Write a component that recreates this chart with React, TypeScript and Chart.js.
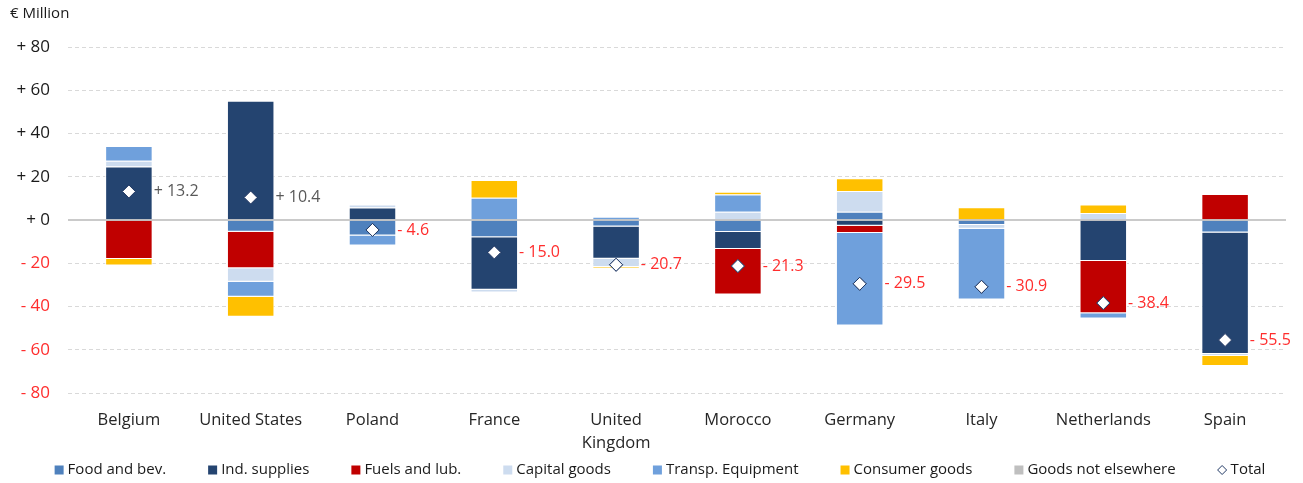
import React, { useEffect, useRef } from "react";
import { Chart, registerables } from "chart.js";

Chart.register(...registerables);

const categories: (string | string[])[] = [
  "Belgium",
  "United States",
  "Poland",
  "France",
  ["United", "Kingdom"],
  "Morocco",
  "Germany",
  "Italy",
  "Netherlands",
  "Spain",
];

const foodBev = [null, -5.4, -7.2, -8.0, -3.0, -5.6, 3.8, -2.3, null, -5.8];
const indSupplies = [24.7, 55.1, 5.8, -24.3, -14.9, -7.8, -2.7, null, -19.0, -56.2];
const fuelsLub = [-18.0, -16.9, null, null, null, -21.0, -3.3, null, -24.1, 12.0];
const capitalGoods = [2.7, -6.2, 1.4, -1.2, -3.8, 3.8, 9.6, -1.7, 3.2, -0.8];
const transpEquip = [6.8, -7.0, -4.6, 10.3, 1.5, 8.0, -42.8, -32.8, -2.5, null];
const consumerGoods = [-3.0, -9.2, null, 8.2, -0.5, 1.3, 5.9, 5.9, 4.0, -4.7];
const goodsNotElsewhere = [null, null, null, null, null, null, null, null, null, null];
const totals = [13.2, 10.4, -4.6, -15.0, -20.7, -21.3, -29.5, -30.9, -38.4, -55.5];

const yTicks = [80, 60, 40, 20, 0, -20, -40, -60, -80];

const FONT = "'Open Sans', 'Noto Sans', sans-serif";
const RED = "#ff2d2d";
const NAVY = "#203864";

const series = [
  { label: "Food and bev.", data: foodBev, color: "#4f81bd" },
  { label: "Ind. supplies", data: indSupplies, color: "#244470" },
  { label: "Fuels and lub.", data: fuelsLub, color: "#c00000" },
  { label: "Capital goods", data: capitalGoods, color: "#cddcef" },
  { label: "Transp. Equipment", data: transpEquip, color: "#6fa0dc" },
  { label: "Consumer goods", data: consumerGoods, color: "#ffc000" },
  { label: "Goods not elsewhere", data: goodsNotElsewhere, color: "#bfbfbf" },
];

const fmt = (v: number) => (v >= 0 ? "+ " : "- ") + Math.abs(v).toFixed(1);

const overlayPlugin = {
  id: "overlay",
  afterDatasetsDraw(chart: any) {
    const ctx = chart.ctx;
    const y = chart.scales.y;
    const area = chart.chartArea;
    ctx.save();
    const y0 = y.getPixelForValue(0);
    ctx.strokeStyle = "#b8b8b8";
    ctx.lineWidth = 1.5;
    ctx.beginPath();
    ctx.moveTo(area.left, y0);
    ctx.lineTo(area.right, y0);
    ctx.stroke();

    const lineIdx = chart.data.datasets.length - 1;
    const lineMeta = chart.getDatasetMeta(lineIdx);
    const barMeta = chart.getDatasetMeta(0);
    lineMeta.data.forEach((pt: any) => pt.draw(ctx, area));

    ctx.font = `16px ${FONT}`;
    ctx.textBaseline = "middle";
    ctx.textAlign = "left";
    totals.forEach((t, i) => {
      const pt = lineMeta.data[i];
      const bar = barMeta.data[i];
      const right = bar.x + bar.width / 2;
      ctx.fillStyle = t >= 0 ? "#595959" : RED;
      ctx.fillText(fmt(t), right + 1, pt.y);
    });
    ctx.restore();
  },
  afterDraw(chart: any) {
    const ctx = chart.ctx;
    ctx.save();
    ctx.font = `15px ${FONT}`;
    ctx.fillStyle = "#1a1a1a";
    ctx.textBaseline = "middle";
    ctx.textAlign = "left";
    ctx.fillText("€ Million", 10, 14);

    const items = [
      ...series.map((s) => ({ label: s.label, color: s.color, diamond: false })),
      { label: "Total", color: "#ffffff", diamond: true },
    ];
    const box = 9;
    const gapText = 4;
    const gapItem = 42;
    const widths = items.map((it) => box + gapText + ctx.measureText(it.label).width);
    const total = widths.reduce((a, b) => a + b, 0) + gapItem * (items.length - 1);
    let x = 660 - total / 2;
    const ly = 470;
    items.forEach((it, i) => {
      if (it.diamond) {
        const cx = x + box / 2;
        const r = 4.5;
        ctx.beginPath();
        ctx.moveTo(cx, ly - r);
        ctx.lineTo(cx + r, ly);
        ctx.lineTo(cx, ly + r);
        ctx.lineTo(cx - r, ly);
        ctx.closePath();
        ctx.fillStyle = "#ffffff";
        ctx.fill();
        ctx.strokeStyle = NAVY;
        ctx.lineWidth = 1;
        ctx.stroke();
      } else {
        ctx.fillStyle = it.color;
        ctx.fillRect(x, ly - box / 2, box, box);
      }
      ctx.fillStyle = "#1a1a1a";
      ctx.fillText(it.label, x + box + gapText, ly);
      x += widths[i] + gapItem;
    });
    ctx.restore();
  },
};

export default function App() {
  const ref = useRef<HTMLCanvasElement | null>(null);

  useEffect(() => {
    if (!ref.current) return;
    const datasets: any[] = series.map((s) => ({
      type: "bar",
      label: s.label,
      data: s.data,
      backgroundColor: s.color,
      borderColor: "#ffffff",
      borderWidth: 1,
      stack: "s",
      order: 1,
      barPercentage: 1,
      categoryPercentage: 0.39,
    }));
    datasets.push({
      type: "line",
      label: "Total",
      data: totals,
      showLine: false,
      pointStyle: "rectRot",
      pointRadius: 6.5,
      pointHoverRadius: 6.5,
      pointBackgroundColor: "#ffffff",
      pointBorderColor: NAVY,
      pointBorderWidth: 1,
      stack: "t",
      order: 0,
    });

    const chart = new Chart(ref.current, {
      type: "bar",
      data: { labels: categories as any, datasets },
      options: {
        responsive: false,
        animation: false,
        layout: { padding: { left: 8, right: 17, top: 47, bottom: 0 } },
        plugins: {
          legend: { display: false },
          tooltip: { enabled: false },
          title: { display: false },
        },
        scales: {
          x: {
            stacked: true,
            grid: { display: false },
            border: { display: false },
            ticks: {
              color: "#262626",
              font: { family: FONT, size: 16.5, lineHeight: 1.4 },
              padding: 8,
              maxRotation: 0,
              autoSkip: false,
            },
            afterFit: (scale: any) => {
              scale.height = 90;
            },
          },
          y: {
            stacked: true,
            min: -80,
            max: 80,
            afterBuildTicks: (scale: any) => {
              scale.ticks = yTicks.map((v) => ({ value: v }));
            },
            afterFit: (scale: any) => {
              scale.width = 60;
            },
            grid: {
              drawTicks: false,
              color: (c: any) => (c.tick && c.tick.value === 0 ? "rgba(0,0,0,0)" : "#d9d9d9"),
              lineWidth: 1,
            },
            border: {
              display: false,
              dash: (c: any) => (c.tick && c.tick.value === 0 ? [] : [4, 3]),
            } as any,
            ticks: {
              padding: 18,
              font: { family: FONT, size: 17 },
              color: (c: any) => (c.tick && c.tick.value < 0 ? RED : "#1a1a1a"),
              callback: (v: any) => (Number(v) >= 0 ? "+ " : "- ") + Math.abs(Number(v)),
            },
          },
        },
      } as any,
      plugins: [overlayPlugin],
    });
    return () => chart.destroy();
  }, []);

  return (
    <div style={{ position: "fixed", left: 0, top: 0, width: 1303, height: 483, background: "#ffffff" }}>
      <canvas ref={ref} width={1303} height={483} style={{ width: 1303, height: 483, display: "block" }} />
    </div>
  );
}
